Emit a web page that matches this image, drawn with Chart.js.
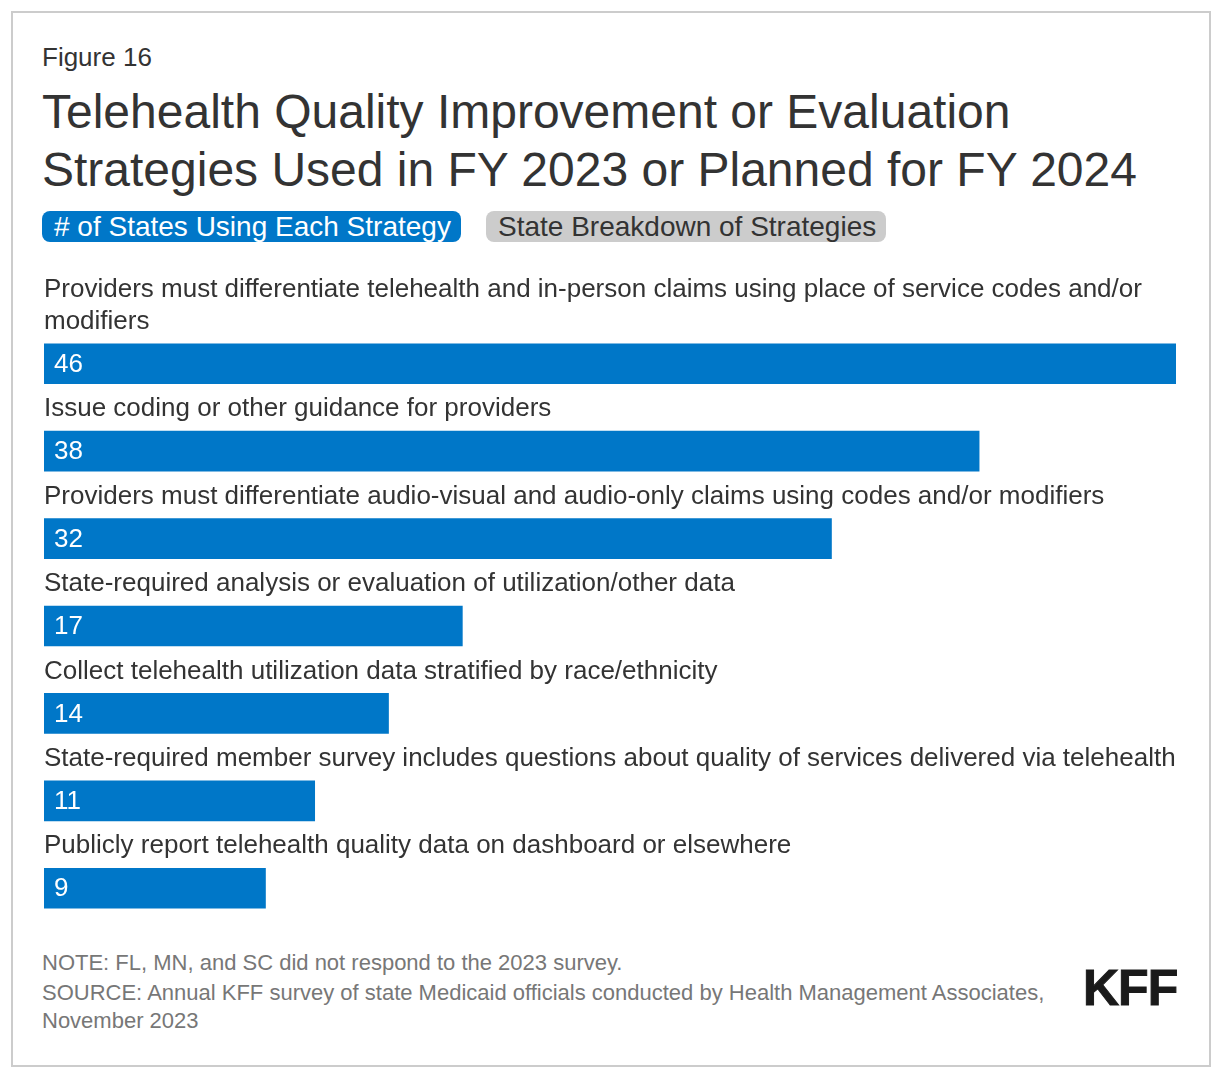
<!DOCTYPE html>
<html>
<head>
<meta charset="utf-8">
<script src="https://cdn.jsdelivr.net/npm/chart.js@4/dist/chart.umd.min.js"></script>
<style>
  body { margin: 0; background: #fff; font-family: "Liberation Sans", Arial, sans-serif; }
  #frame { position: absolute; left: 11px; top: 11px; width: 1196px; height: 1052px; border: 2px solid #ccc; }
  .abs { position: absolute; white-space: nowrap; }
  #fig { left: 42px; top: 42px; font-size: 26px; line-height: 30px; color: #333; }
  #title { left: 42px; top: 83px; font-size: 48px; line-height: 58px; color: #333; }
  .tab { top: 211px; height: 31px; line-height: 31px; font-size: 28px; border-radius: 8px; padding: 0 10px 0 12px; }
  #tab1 { left: 42px; background: #0077c8; color: #fff; }
  #tab2 { left: 486px; background: #ccc; color: #333; }
  #chartBox { position: absolute; left: 44px; top: 260px; width: 1132px; height: 680px; }
  .foot { left: 42px; font-size: 22px; line-height: 29px; color: #777; }
  #kff { left: 1083px; top: 958px; font-size: 50px; line-height: 60px; font-weight: bold; color: #1a1a1a; letter-spacing: -1px; -webkit-text-stroke: 1px #1a1a1a; }
</style>
</head>
<body>
<div id="frame"></div>
<div class="abs" id="fig">Figure 16</div>
<div class="abs" id="title">Telehealth Quality Improvement or Evaluation<br>Strategies Used in FY 2023 or Planned for FY 2024</div>
<div class="abs tab" id="tab1"># of States Using Each Strategy</div>
<div class="abs tab" id="tab2">State Breakdown of Strategies</div>
<div id="chartBox"><canvas id="myChart"></canvas></div>
<div class="abs foot" style="top:948px">NOTE: FL, MN, and SC did not respond to the 2023 survey.</div>
<div class="abs foot" style="top:978px">SOURCE: Annual KFF survey of state Medicaid officials conducted by Health Management Associates,</div>
<div class="abs foot" style="top:1006px">November 2023</div>
<div class="abs" id="kff">KFF</div>
<script>
const strategies = [
  'Providers must differentiate telehealth and in-person claims using place of service codes and/or modifiers',
  'Issue coding or other guidance for providers',
  'Providers must differentiate audio-visual and audio-only claims using codes and/or modifiers',
  'State-required analysis or evaluation of utilization/other data',
  'Collect telehealth utilization data stratified by race/ethnicity',
  'State-required member survey includes questions about quality of services delivered via telehealth',
  'Publicly report telehealth quality data on dashboard or elsewhere'
];
const stateCounts = [46, 38, 32, 17, 14, 11, 9];

// draws the category label above each bar and the count inside it
const barLabels = {
  id: 'barLabels',
  afterDatasetsDraw(chart) {
    const ctx = chart.ctx;
    const meta = chart.getDatasetMeta(0);
    const maxW = chart.chartArea.right - chart.chartArea.left + 12;
    ctx.save();
    ctx.font = '26px "Liberation Sans", Arial, sans-serif';
    ctx.textBaseline = 'middle';
    meta.data.forEach((bar, i) => {
      // wrap long labels
      const words = strategies[i].split(' ');
      const lines = [];
      let line = '';
      words.forEach(w => {
        const test = line ? line + ' ' + w : w;
        if (ctx.measureText(test).width > maxW && line) {
          lines.push(line);
          line = w;
        } else {
          line = test;
        }
      });
      lines.push(line);
      ctx.fillStyle = '#333';
      ctx.textAlign = 'left';
      lines.forEach((l, j) => {
        ctx.fillText(l, chart.chartArea.left, bar.y - 42 - (lines.length - 1 - j) * 32);
      });
      ctx.fillStyle = '#fff';
      ctx.fillText(stateCounts[i], bar.base + 10, bar.y + 1);
    });
    ctx.restore();
  }
};

const myChart = new Chart(document.getElementById('myChart'), {
  type: 'bar',
  data: {
    labels: strategies,
    datasets: [{
      label: '# of States Using Each Strategy',
      data: stateCounts,
      backgroundColor: '#0077c8',
      borderWidth: 0,
      barThickness: 40
    }]
  },
  options: {
    indexAxis: 'y',
    responsive: true,
    maintainAspectRatio: false,
    animation: false,
    layout: {
      padding: { top: 60, bottom: 8 }
    },
    scales: {
      x: { display: false, min: 0, max: 46 },
      y: { display: false }
    },
    plugins: {
      legend: { display: false },
      tooltip: { enabled: false }
    }
  },
  plugins: [barLabels]
});
</script>
</body>
</html>
